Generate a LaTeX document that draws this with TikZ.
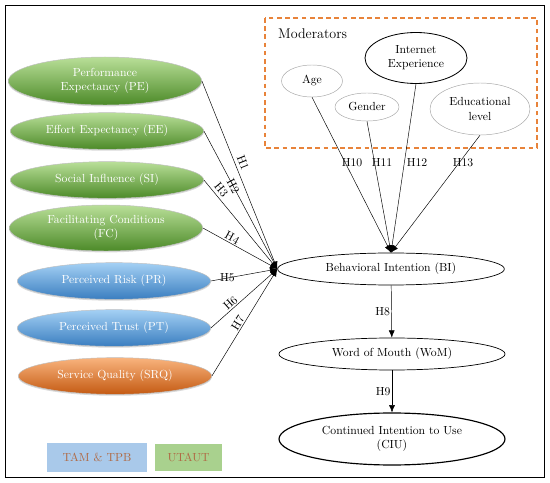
\documentclass[tikz,border=0pt]{standalone}
\usepackage{tikz}
\usetikzlibrary{positioning,arrows.meta,shapes.geometric,shadows}

\definecolor{grLight}{HTML}{B9DF98}
\definecolor{grMid}{HTML}{74B043}
\definecolor{grDark}{HTML}{4C8A28}
\definecolor{blLight}{HTML}{A4D0F4}
\definecolor{blMid}{HTML}{5AA4E2}
\definecolor{blDark}{HTML}{3A7EC0}
\definecolor{orLight}{HTML}{F9B47E}
\definecolor{orMid}{HTML}{F07C2C}
\definecolor{orDark}{HTML}{C45A12}
\definecolor{modOrange}{HTML}{E8833A}
\definecolor{legBlue}{HTML}{A9C9EA}
\definecolor{legGreen}{HTML}{A9D18E}
\definecolor{legText}{HTML}{B06A45}

\begin{document}
\begin{tikzpicture}[
  x=0.03cm,y=-0.03cm,
  font=\normalsize,
  oval/.style={ellipse,inner sep=0pt,align=center},
  cons/.style={oval,draw=black!25,text=white,minimum width=5.8cm,minimum height=1.1cm,
    drop shadow={shadow xshift=0pt,shadow yshift=-1.2pt,opacity=0.3}},
  green/.style={cons,top color=grLight,middle color=grMid,bottom color=grDark},
  blue/.style={cons,top color=blLight,middle color=blMid,bottom color=blDark},
  orange/.style={cons,top color=orLight,middle color=orMid,bottom color=orDark},
  mod/.style={oval,draw=black!35},
  main/.style={oval,draw,line width=0.6pt,minimum width=6.8cm,minimum height=0.96cm},
  hyp/.style={inner sep=1pt},
  leg/.style={rectangle,inner sep=0pt,text=legText},
  >={Latex[length=2.2mm,width=1.8mm]}
]
\useasboundingbox (0,0) rectangle (550,483);
\draw[line width=0.8pt] (5,5) rectangle (544,477);

% ---------------- constructs ----------------
\node[green,minimum height=1.44cm] (pe) at (105,81) {Performance\\Expectancy (PE)};
\node[green] (ee) at (107,131) {Effort Expectancy (EE)};
\node[green] (si) at (107,180) {Social Influence (SI)};
\node[green,minimum height=1.38cm] (fc) at (106,228) {Facilitating Conditions\\(FC)};
\node[blue] (pr) at (114,281) {Perceived Risk (PR)};
\node[blue] (pt) at (114,328) {Perceived Trust (PT)};
\node[orange] (srq) at (115,376) {Service Quality (SRQ)};

% ---------------- outcomes ----------------
\node[main] (bi) at (391,269) {Behavioral Intention (BI)};
\node[main,minimum width=6.78cm] (wom) at (392,354) {Word of Mouth (WoM)};
\node[main,minimum width=6.78cm,minimum height=1.56cm,line width=1pt] (ciu) at (392,439)
     {Continued Intention to Use\\(CIU)};

\draw[->] (pe.east) -- node[hyp,sloped,above=2pt,pos=0.45] {H1} (bi.west);
\draw[->] (ee.east) -- node[hyp,sloped,pos=0.4] {H2} (bi.west);
\draw[->] (si.east) -- node[hyp,sloped,above=1.5pt,pos=0.16] {H3} (bi.west);
\draw[->] (fc.east) -- node[hyp,sloped,above,pos=0.36] {H4} (bi.west);
\draw[->] (pr.east) -- node[hyp,pos=0.25] {H5} (bi.west);
\draw[->] (pt.east) -- node[hyp,sloped,above,pos=0.35] {H6} (bi.west);
\draw[->] (srq.east) -- node[hyp,sloped,above,pos=0.47] {H7} (bi.west);
\draw[->] (bi) -- node[left,hyp] {H8} (wom);
\draw[->] (wom) -- node[left,hyp] {H9} (ciu);

% ---------------- moderators ----------------
\draw[modOrange,line width=1.1pt,dash pattern=on 4pt off 3pt] (265,18) rectangle (537,148);
\node[anchor=west,font=\large] (modt) at (274,34) {Moderators};
\node[mod,minimum width=1.83cm,minimum height=0.96cm] (age) at (312,81) {Age};
\node[mod,minimum width=1.92cm,minimum height=0.84cm] (gen) at (367,107) {Gender};
\node[mod,draw=black,line width=0.7pt,minimum width=3.06cm,minimum height=1.53cm] (inet) at (416,58)
     {Internet\\Experience};
\node[mod,minimum width=3cm,minimum height=1.56cm] (edu) at (480,109) {Educational\\level};

\draw[->] (age.south) -- (bi.north);
\draw[->] (gen.south) -- (bi.north);
\draw[->] (inet.south) -- (bi.north);
\draw[->] (edu.south) -- (bi.north);
\node[hyp] (h10) at (352,163) {H10};
\node[hyp] (h11) at (382,163) {H11};
\node[hyp] (h12) at (417,163) {H12};
\node[hyp] (h13) at (463,163) {H13};

% ---------------- legend ----------------
\node[leg,fill=legBlue,minimum width=3cm,minimum height=0.87cm] (tam) at (97,457.5) {TAM \& TPB};
\node[leg,fill=legGreen,minimum width=2.01cm,minimum height=0.81cm] (utaut) at (188.5,457.5) {UTAUT};
\end{tikzpicture}
\end{document}
